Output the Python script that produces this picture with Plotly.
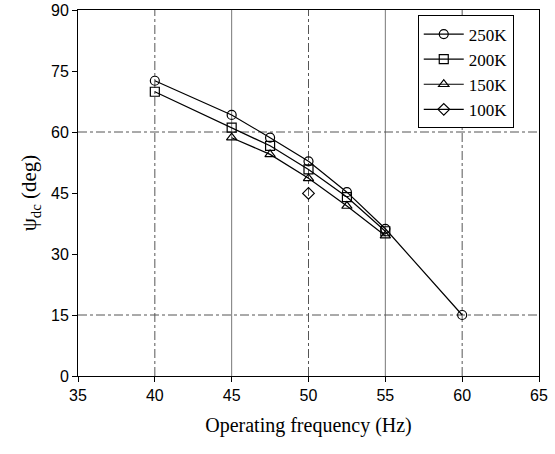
import plotly.graph_objects as go

freq_250 = [40, 45, 47.5, 50, 52.5, 55, 60]
psi_250 = [72.6, 64.2, 58.6, 52.8, 45.2, 36.2, 15.0]
freq_200 = [40, 45, 47.5, 50, 52.5, 55]
psi_200 = [69.9, 61.1, 56.6, 50.8, 44.0, 35.6]
freq_150 = [45, 47.5, 50, 52.5, 55]
psi_150 = [58.6, 54.5, 48.6, 41.8, 34.5]
freq_100 = [50]
psi_100 = [44.9]

x_ticks = [35, 40, 45, 50, 55, 60, 65]
y_ticks = [0, 15, 30, 45, 60, 75, 90]
grid_x_dashed = [40, 50, 60]
grid_x_solid = [45, 55]
grid_y_dashed = [15, 60]

series = [
    ("250K", freq_250, psi_250, "circle-open"),
    ("200K", freq_200, psi_200, "square-open"),
    ("150K", freq_150, psi_150, "triangle-up-open"),
    ("100K", freq_100, psi_100, "diamond-open"),
]

fig = go.Figure()
for name, xs, ys, sym in series:
    fig.add_trace(go.Scatter(
        x=xs, y=ys, name=name, mode="lines+markers",
        line=dict(color="black", width=1.2),
        marker=dict(symbol=sym, size=9, color="black", line=dict(width=1.2, color="black")),
    ))

shapes = []
for gx in grid_x_dashed:
    shapes.append(dict(type="line", xref="x", yref="paper", x0=gx, x1=gx, y0=0, y1=1,
                       line=dict(color="#555", width=1, dash="dashdot"), layer="below"))
for gx in grid_x_solid:
    shapes.append(dict(type="line", xref="x", yref="paper", x0=gx, x1=gx, y0=0, y1=1,
                       line=dict(color="#777", width=1), layer="below"))
for gy in grid_y_dashed:
    shapes.append(dict(type="line", xref="paper", yref="y", x0=0, x1=1, y0=gy, y1=gy,
                       line=dict(color="#555", width=1, dash="dashdot"), layer="below"))

fig.update_layout(
    width=555, height=454,
    margin=dict(l=78, r=16, t=10, b=78),
    plot_bgcolor="white", paper_bgcolor="white",
    shapes=shapes,
    font=dict(family="Liberation Sans, Arial", size=16, color="black"),
    legend=dict(x=0.737, y=0.985, xanchor="left", yanchor="top",
                bordercolor="black", borderwidth=1, bgcolor="white",
                font=dict(family="Liberation Serif, Times New Roman", size=17),
                itemwidth=40, tracegroupgap=0),
    xaxis=dict(range=[35, 65], tickvals=x_ticks, showgrid=False, zeroline=False,
               showline=True, linecolor="black", linewidth=1, mirror=True,
               ticks="outside", ticklen=5, tickcolor="black", automargin=False,
               title=dict(text="Operating frequency (Hz)",
                          font=dict(family="Liberation Serif, Times New Roman", size=20),
                          standoff=14)),
    yaxis=dict(range=[0, 90], tickvals=y_ticks, showgrid=False, zeroline=False,
               showline=True, linecolor="black", linewidth=1, mirror=True,
               ticks="outside", ticklen=5, tickcolor="black", automargin=False,
               title=dict(text="ψ<sub>dc</sub> (deg)",
                          font=dict(family="Liberation Serif, Times New Roman", size=21),
                          standoff=8)),
)

fig.write_html("out.html", config={"displayModeBar": False},
               post_script="document.body.style.margin='0';")
